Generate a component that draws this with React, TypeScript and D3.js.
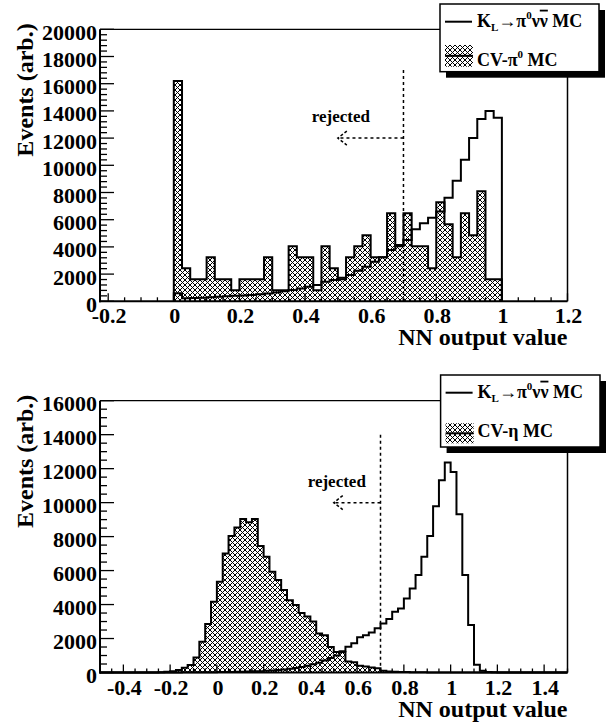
import React from 'react';
import * as d3 from 'd3';

const BIN = 0.025;

// ---------- top panel data (bins of 0.025 starting at 0) ----------
const topStart = 0;
const topSignal = [600, 220, 250, 270, 300, 330, 370, 400, 430, 470, 520, 580, 650, 730, 830, 950, 1070, 1200, 1440, 1560,
  1740, 1930, 2250, 2540, 2900, 3230, 3770, 4140, 4500, 5300, 5730, 6150, 6600, 7620, 8870, 10400, 12000, 13400, 14000, 13500];
const topCV = [16200, 2430, 1620, 1620, 3240, 1620, 1620, 810, 1620, 1620, 1620, 3240, 810, 810, 4050, 3240, 3240, 810, 4050, 2430,
  1620, 3240, 4050, 4860, 3240, 3240, 6480, 4050, 6480, 4050, 4050, 2430, 7290, 5670, 3240, 6480, 4860, 8100, 1620, 1620];
const topYTicks = [0, 2000, 4000, 6000, 8000, 10000, 12000, 14000, 16000, 18000, 20000];
const topYLabels = ['0', '2000', '4000', '6000', '8000', '10000', '12000', '14000', '16000', '18000', '20000'];
const topXTicks = [-0.2, 0, 0.2, 0.4, 0.6, 0.8, 1, 1.2];
const topXLabels = ['-0.2', '0', '0.2', '0.4', '0.6', '0.8', '1', '1.2'];

// ---------- bottom panel data (bins of 0.025 starting at -0.5) ----------
const botStart = -0.5;
const botSignal = [0, 0, 0, 0, 0, 0, 0, 0, 0, 0, 0, 0, 5, 5, 10, 10, 15, 15, 20, 20,
  25, 30, 35, 40, 50, 60, 70, 80, 100, 120, 150, 180, 220, 270, 330, 400, 480, 580, 700, 850,
  1000, 1250, 1520, 1720, 2070, 2200, 2350, 2600, 2890, 3150, 3580, 3770, 4360, 4950, 5740, 6810, 8030, 9790, 11320, 12360,
  11810, 9320, 5740, 2800, 450, 100, 30, 10, 0, 0, 0, 0, 0, 0, 0, 0, 0, 0, 0, 0];
const botCV = [0, 0, 0, 0, 0, 0, 0, 0, 0, 0, 20, 40, 80, 150, 280, 440, 890, 1810, 2850, 4170,
  5340, 7010, 8030, 8540, 9030, 8850, 9030, 7440, 6810, 5930, 5440, 4850, 4260, 3970, 3500, 3300, 3000, 2300, 2200, 1500,
  1200, 1200, 650, 600, 400, 350, 300, 250, 100, 60, 40, 30, 25, 20, 15, 10, 0, 0, 0, 0,
  0, 0, 0, 0, 0, 0, 0, 0, 0, 0, 0, 0, 0, 0, 0, 0, 0, 0, 0, 0];
const botYTicks = [0, 2000, 4000, 6000, 8000, 10000, 12000, 14000, 16000];
const botYLabels = ['0', '2000', '4000', '6000', '8000', '10000', '12000', '14000', '16000'];
const botXTicks = [-0.4, -0.2, 0, 0.2, 0.4, 0.6, 0.8, 1, 1.2, 1.4];
const botXLabels = ['-0.4', '-0.2', '0', '0.2', '0.4', '0.6', '0.8', '1', '1.2', '1.4'];

const FONT = "'Liberation Serif', 'DejaVu Serif', serif";

function stepPath(start: number, values: number[], x: any, y: any, close: boolean) {
  let d = `M${x(start)},${y(0)}`;
  values.forEach((v, i) => {
    d += `V${y(v)}H${x(start + (i + 1) * BIN)}`;
  });
  d += `V${y(0)}`;
  if (close) d += 'Z';
  return d;
}

type PanelProps = {
  id: string;
  xDomain: [number, number];
  yMax: number;
  left: number; right: number; top: number; bottom: number;
  start: number; signal: number[]; cv: number[];
  xTicks: number[]; xLabels: string[]; yTicks: number[]; yLabels: string[];
  xMinorStep: number; yMinorStep: number;
  cut: number; cutTop: number; arrowY: number; arrowTip: number;
  legendBox: [number, number, number, number];
  legendLineY: number; legendHatch: [number, number]; legendText1Y: number; legendText2Y: number;
  cvLabel: React.ReactNode;
};

function Panel(p: PanelProps) {
  const x = d3.scaleLinear().domain(p.xDomain).range([p.left, p.right]);
  const y = d3.scaleLinear().domain([0, p.yMax]).range([p.bottom, p.top]);
  const xMinor = d3.range(Math.ceil(p.xDomain[0] / p.xMinorStep - 1e-9), Math.floor(p.xDomain[1] / p.xMinorStep + 1e-9) + 1)
    .map((k) => k * p.xMinorStep);
  const yMinor = d3.range(0, Math.round(p.yMax / p.yMinorStep) + 1).map((k) => k * p.yMinorStep);
  const [lx, ly, lw, lh] = p.legendBox;
  const pat = `hatch-${p.id}`;
  const ts = { fontFamily: FONT, fontWeight: 700 } as React.CSSProperties;
  return (
    <g style={ts}>
      <defs>
        <pattern id={pat} patternUnits="userSpaceOnUse" width={5} height={5}>
          <path d="M-1,-1L6,6M6,-1L-1,6" stroke="#000" strokeWidth={1} fill="none" />
        </pattern>
      </defs>
      {/* frame */}
      <line x1={p.left} x2={p.right} y1={p.top} y2={p.top} stroke="#000" strokeWidth={1.2} />
      <line x1={p.right} x2={p.right} y1={p.top} y2={p.bottom} stroke="#000" strokeWidth={1.5} />
      {/* histograms */}
      <path d={stepPath(p.start, p.cv, x, y, true)} fill={`url(#${pat})`} stroke="none" />
      <path d={stepPath(p.start, p.cv, x, y, false)} fill="none" stroke="#000" strokeWidth={2} />
      <path d={stepPath(p.start, p.signal, x, y, false)} fill="none" stroke="#000" strokeWidth={2} />
      {/* axes */}
      <line x1={p.left} x2={p.left} y1={p.top} y2={p.bottom + 1} stroke="#000" strokeWidth={2} />
      <line x1={p.left - 1} x2={p.right} y1={p.bottom} y2={p.bottom} stroke="#000" strokeWidth={2} />
      {xMinor.map((v, i) => {
        const major = p.xTicks.some((t) => Math.abs(t - v) < 1e-6);
        return <line key={'xm' + i} x1={x(v)} x2={x(v)} y1={p.bottom} y2={p.bottom - (major ? 8 : 4)} stroke="#000" strokeWidth={1.3} />;
      })}
      {yMinor.map((v, i) => {
        const major = p.yTicks.some((t) => Math.abs(t - v) < 1e-6);
        return <line key={'ym' + i} x1={p.left} x2={p.left + (major ? 14 : 7)} y1={y(v)} y2={y(v)} stroke="#000" strokeWidth={1.3} />;
      })}
      {p.xTicks.map((t, i) => (
        <text key={'xl' + i} x={x(t) + 1} y={p.bottom + 22} fontSize={22} textAnchor="middle">{p.xLabels[i]}</text>
      ))}
      {p.yTicks.map((t, i) => (
        <text key={'yl' + i} x={p.left - 3} y={y(t) + 10.5} fontSize={22} textAnchor="end">{p.yLabels[i]}</text>
      ))}
      <text x={p.right} y={p.bottom + 44} fontSize={24} textAnchor="end">NN output value</text>
      <text transform={`translate(33,${p.top - 6}) rotate(-90)`} fontSize={24} textAnchor="end">Events (arb.)</text>
      {/* cut line and arrow */}
      <line x1={x(p.cut)} x2={x(p.cut)} y1={y(p.cutTop)} y2={p.bottom} stroke="#000" strokeWidth={1.5} strokeDasharray="3,3" />
      <line x1={x(p.cut)} x2={x(p.arrowTip)} y1={y(p.arrowY)} y2={y(p.arrowY)} stroke="#000" strokeWidth={1.5} strokeDasharray="3,3" />
      <path d={`M${x(p.arrowTip) + 9},${y(p.arrowY) - 7}L${x(p.arrowTip)},${y(p.arrowY)}L${x(p.arrowTip) + 9},${y(p.arrowY) + 7}`}
        fill="none" stroke="#000" strokeWidth={1.5} strokeDasharray="3,2" />
      <text x={x(p.arrowTip) + 3} y={y(p.arrowY) - 16} fontSize={17} textAnchor="middle">rejected</text>
      {/* legend */}
      <rect x={lx + 6} y={ly + 6} width={lw} height={lh} fill="#000" />
      <rect x={lx} y={ly} width={lw} height={lh} fill="#fff" stroke="#000" strokeWidth={1.5} />
      <line x1={lx + 5} x2={lx + 32} y1={p.legendLineY} y2={p.legendLineY} stroke="#000" strokeWidth={2} />
      <text x={lx + 37} y={p.legendText1Y} fontSize={18}>
        K<tspan fontSize={11} dy={4}>L</tspan><tspan dy={-4}>→π</tspan><tspan fontSize={11} dy={-8}>0</tspan>
        <tspan dy={8}>ν</tspan><tspan textDecoration="overline">ν</tspan><tspan> MC</tspan>
      </text>
      <rect x={lx + 5} y={p.legendHatch[0]} width={28} height={p.legendHatch[1] - p.legendHatch[0]} fill={`url(#${pat})`} />
      <line x1={lx + 5} x2={lx + 33} y1={(p.legendHatch[0] + p.legendHatch[1]) / 2} y2={(p.legendHatch[0] + p.legendHatch[1]) / 2} stroke="#000" strokeWidth={2} />
      <text x={lx + 37} y={p.legendText2Y} fontSize={18}>{p.cvLabel}</text>
    </g>
  );
}

export default function App() {
  return (
    <svg width={613} height={723} style={{ position: 'absolute', left: 0, top: 0, background: '#fff', fontFamily: FONT }}>
      <rect width={613} height={723} fill="#fff" />
      <Panel
        id="top" xDomain={[-0.225, 1.2]} yMax={20000}
        left={100} right={567.5} top={29.3} bottom={301.3}
        start={topStart} signal={topSignal} cv={topCV}
        xTicks={topXTicks} xLabels={topXLabels} yTicks={topYTicks} yLabels={topYLabels}
        xMinorStep={0.05} yMinorStep={400}
        cut={0.7} cutTop={17000} arrowY={12000} arrowTip={0.5}
        legendBox={[440, 4, 159, 67.7]} legendLineY={21.7} legendHatch={[45, 66.7]} legendText1Y={26.7} legendText2Y={66}
        cvLabel={<>CV-π<tspan fontSize={11} dy={-8}>0</tspan><tspan dy={8}> MC</tspan></>}
      />
      <Panel
        id="bot" xDomain={[-0.5, 1.5]} yMax={16000}
        left={100} right={567.5} top={400.7} bottom={672.5}
        start={botStart} signal={botSignal} cv={botCV}
        xTicks={botXTicks} xLabels={botXLabels} yTicks={botYTicks} yLabels={botYLabels}
        xMinorStep={0.05} yMinorStep={500}
        cut={0.7} cutTop={14000} arrowY={10000} arrowTip={0.5}
        legendBox={[440.6, 375, 159.4, 72]} legendLineY={392.7} legendHatch={[423.3, 443.3]} legendText1Y={397.7} legendText2Y={437.3}
        cvLabel={<>CV-η MC</>}
      />
    </svg>
  );
}
